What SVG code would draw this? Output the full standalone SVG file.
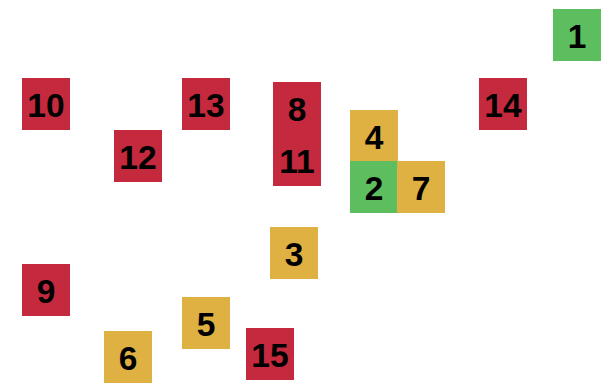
<svg xmlns="http://www.w3.org/2000/svg" width="615" height="385" viewBox="0 0 615 385">
<style>
.r{fill:#C5293D}.g{fill:#5DBE5F}.o{fill:#DFB042}
text{font-family:"Liberation Sans",Arial,sans-serif;font-weight:bold;font-size:33.5px;fill:#000;text-anchor:middle}
</style>
<rect width="615" height="385" fill="#fff"/>
<g id="connectors"/>
<g id="n1"><rect class="g" x="553" y="9" width="48" height="52"/><text x="577" y="47.5">1</text></g>
<g id="n10"><rect class="r" x="22" y="78" width="48" height="52"/><text x="46" y="116.5">10</text></g>
<g id="n13"><rect class="r" x="182" y="78" width="48" height="52"/><text x="206" y="116.5">13</text></g>
<g id="n14"><rect class="r" x="479" y="78" width="48" height="52"/><text x="503" y="116.5">14</text></g>
<g id="n8"><rect class="r" x="273" y="82" width="48" height="52"/><text x="297" y="120.5">8</text></g>
<g id="n11"><rect class="r" x="273" y="134" width="48" height="52"/><text x="297" y="172.5">11</text></g>
<g id="n12"><rect class="r" x="114" y="130" width="48" height="52"/><text x="138" y="168.5">12</text></g>
<g id="n4"><rect class="o" x="350" y="110" width="48" height="52"/><text x="374" y="148.5">4</text></g>
<g id="n2"><rect class="g" x="350" y="161" width="48" height="52"/><text x="374" y="199.5">2</text></g>
<g id="n7"><rect class="o" x="397" y="161" width="48" height="52"/><text x="421" y="199.5">7</text></g>
<g id="n3"><rect class="o" x="270" y="227" width="48" height="52"/><text x="294" y="265.5">3</text></g>
<g id="n9"><rect class="r" x="22" y="264" width="48" height="52"/><text x="46" y="302.5">9</text></g>
<g id="n5"><rect class="o" x="182" y="297" width="48" height="52"/><text x="206" y="335.5">5</text></g>
<g id="n6"><rect class="o" x="104" y="331" width="48" height="52"/><text x="128" y="369.5">6</text></g>
<g id="n15"><rect class="r" x="246" y="328" width="48" height="52"/><text x="270" y="366.5">15</text></g>
</svg>
